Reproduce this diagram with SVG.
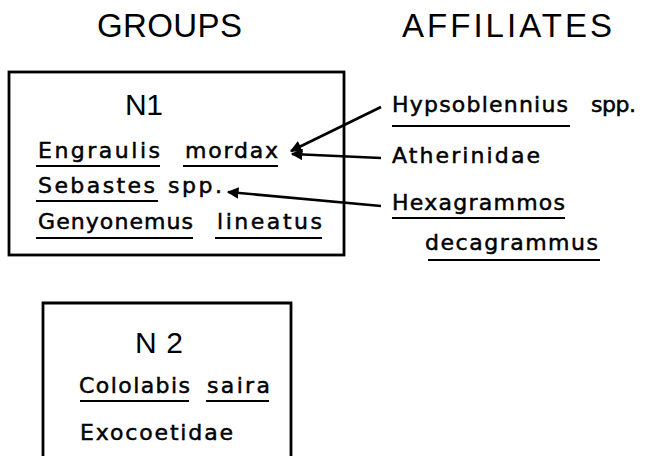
<svg xmlns="http://www.w3.org/2000/svg" width="645" height="456" viewBox="0 0 645 456">
<style>
.h{font-family:"Liberation Sans",Arial,sans-serif;font-size:33px;fill:#000}
.lbl{font-family:"Liberation Sans",Arial,sans-serif;font-size:30px;fill:#000}
.t{font-family:"DejaVu Sans","Liberation Sans",sans-serif;font-size:22px;fill:#000;stroke:#000;stroke-width:0.5}
.box{fill:none;stroke:#000;stroke-width:2.8}
.ul{stroke:#000;stroke-width:2.2;fill:none}
.conn{stroke:#000;stroke-width:2.6;fill:none}
</style>
<defs>
<marker id="ah" viewBox="0 0 10 10" refX="9" refY="5" markerWidth="4.5" markerHeight="4.5" orient="auto" markerUnits="strokeWidth">
<path d="M0,0 L10,5 L0,10 Z" fill="#000"/>
</marker>
</defs>
<text class="h" x="97" y="37" textLength="145" lengthAdjust="spacing">GROUPS</text>
<text class="h" x="402" y="37" textLength="210" lengthAdjust="spacing">AFFILIATES</text>
<g id="N1">
<rect class="box" x="9" y="72" width="335" height="183"/>
<text class="lbl" x="125" y="115" textLength="38" lengthAdjust="spacing">N1</text>
<text class="t" x="38" y="158" textLength="122" lengthAdjust="spacing">Engraulis</text>
<text class="t" x="185" y="158" textLength="93" lengthAdjust="spacing">mordax</text>
<line class="ul" x1="36" y1="166" x2="160" y2="166"/>
<line class="ul" x1="183" y1="166" x2="278" y2="166"/>
<text class="t" x="38" y="193" textLength="117" lengthAdjust="spacing">Sebastes</text>
<text class="t" x="168" y="193" textLength="54" lengthAdjust="spacing">spp.</text>
<line class="ul" x1="36" y1="201" x2="158" y2="201"/>
<text class="t" x="38" y="229" textLength="155" lengthAdjust="spacing">Genyonemus</text>
<text class="t" x="217" y="229" textLength="105" lengthAdjust="spacing">lineatus</text>
<line class="ul" x1="36" y1="238" x2="193" y2="238"/>
<line class="ul" x1="215" y1="238" x2="322" y2="238"/>
</g>
<g id="N2">
<path class="box" d="M43,456 V303 H291 V456"/>
<text class="lbl" x="135" y="353" textLength="48" lengthAdjust="spacing">N2</text>
<text class="t" x="79" y="393" textLength="111" lengthAdjust="spacing">Cololabis</text>
<text class="t" x="207" y="393" textLength="63" lengthAdjust="spacing">saira</text>
<line class="ul" x1="80" y1="401" x2="189" y2="401"/>
<line class="ul" x1="206" y1="401" x2="269" y2="401"/>
<text class="t" x="80" y="440" textLength="153" lengthAdjust="spacing">Exocoetidae</text>
</g>
<g id="hyps">
<text class="t" x="392" y="112" textLength="176" lengthAdjust="spacing">Hypsoblennius</text>
<text class="t" x="591" y="112" textLength="45" lengthAdjust="spacing">spp.</text>
<line class="ul" x1="392" y1="126" x2="570" y2="126"/>
</g>
<g id="ather">
<text class="t" x="392" y="163" textLength="148" lengthAdjust="spacing">Atherinidae</text>
</g>
<g id="hexa">
<text class="t" x="392" y="210" textLength="173" lengthAdjust="spacing">Hexagrammos</text>
<line class="ul" x1="392" y1="218" x2="565" y2="218"/>
<text class="t" x="425" y="250" textLength="173" lengthAdjust="spacing">decagrammus</text>
<line class="ul" x1="428" y1="260" x2="600" y2="260"/>
</g>
<g id="connectors">
<line class="conn" x1="381" y1="107" x2="291" y2="151" marker-end="url(#ah)"/>
<line class="conn" x1="381" y1="158" x2="292" y2="154" marker-end="url(#ah)"/>
<line class="conn" x1="381" y1="206" x2="228" y2="192" marker-end="url(#ah)"/>
</g>
</svg>
